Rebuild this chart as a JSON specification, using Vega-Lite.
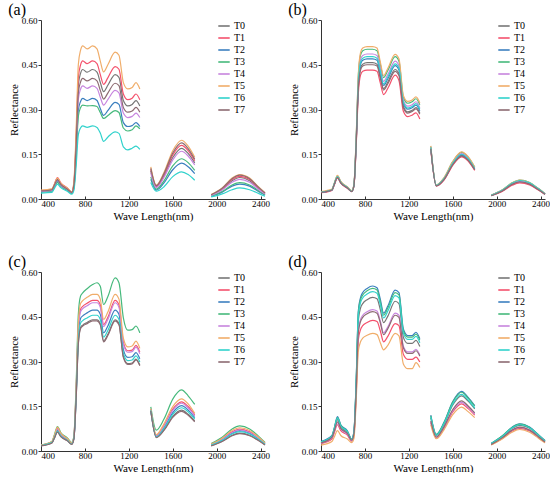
{
  "$schema": "https://vega.github.io/schema/vega-lite/v6.json",
  "padding": {"left": 8, "top": 2, "right": 0, "bottom": 0},
  "datasets": {
    "a": [
      {"g":1,"w":400,"T0":0.026,"T1":0.028,"T2":0.024,"T3":0.024,"T4":0.026,"T5":0.030,"T6":0.020,"T7":0.027},
      {"g":1,"w":500,"T0":0.030,"T1":0.032,"T2":0.027,"T3":0.027,"T4":0.029,"T5":0.034,"T6":0.022,"T7":0.031},
      {"g":1,"w":520,"T0":0.045,"T1":0.048,"T2":0.040,"T3":0.040,"T4":0.043,"T5":0.048,"T6":0.034,"T7":0.045},
      {"g":1,"w":550,"T0":0.066,"T1":0.072,"T2":0.058,"T3":0.056,"T4":0.062,"T5":0.070,"T6":0.050,"T7":0.064},
      {"g":1,"w":580,"T0":0.050,"T1":0.054,"T2":0.044,"T3":0.043,"T4":0.047,"T5":0.053,"T6":0.038,"T7":0.049},
      {"g":1,"w":640,"T0":0.034,"T1":0.037,"T2":0.030,"T3":0.029,"T4":0.032,"T5":0.036,"T6":0.026,"T7":0.033},
      {"g":1,"w":680,"T0":0.022,"T1":0.024,"T2":0.019,"T3":0.019,"T4":0.021,"T5":0.024,"T6":0.016,"T7":0.022},
      {"g":1,"w":700,"T0":0.050,"T1":0.054,"T2":0.040,"T3":0.038,"T4":0.045,"T5":0.060,"T6":0.030,"T7":0.048},
      {"g":1,"w":720,"T0":0.195,"T1":0.208,"T2":0.152,"T3":0.142,"T4":0.171,"T5":0.231,"T6":0.110,"T7":0.182},
      {"g":1,"w":740,"T0":0.382,"T1":0.407,"T2":0.297,"T3":0.277,"T4":0.334,"T5":0.451,"T6":0.216,"T7":0.356},
      {"g":1,"w":760,"T0":0.421,"T1":0.449,"T2":0.327,"T3":0.306,"T4":0.368,"T5":0.498,"T6":0.238,"T7":0.392},
      {"g":1,"w":780,"T0":0.434,"T1":0.463,"T2":0.337,"T3":0.315,"T4":0.379,"T5":0.513,"T6":0.245,"T7":0.404},
      {"g":1,"w":820,"T0":0.425,"T1":0.454,"T2":0.330,"T3":0.312,"T4":0.371,"T5":0.503,"T6":0.240,"T7":0.396},
      {"g":1,"w":870,"T0":0.434,"T1":0.463,"T2":0.337,"T3":0.313,"T4":0.379,"T5":0.513,"T6":0.245,"T7":0.404},
      {"g":1,"w":910,"T0":0.425,"T1":0.454,"T2":0.330,"T3":0.310,"T4":0.371,"T5":0.503,"T6":0.240,"T7":0.396},
      {"g":1,"w":940,"T0":0.391,"T1":0.417,"T2":0.303,"T3":0.290,"T4":0.341,"T5":0.462,"T6":0.221,"T7":0.364},
      {"g":1,"w":970,"T0":0.360,"T1":0.384,"T2":0.280,"T3":0.270,"T4":0.315,"T5":0.426,"T6":0.193,"T7":0.335},
      {"g":1,"w":1010,"T0":0.382,"T1":0.407,"T2":0.297,"T3":0.280,"T4":0.334,"T5":0.451,"T6":0.208,"T7":0.356},
      {"g":1,"w":1075,"T0":0.417,"T1":0.444,"T2":0.324,"T3":0.296,"T4":0.364,"T5":0.492,"T6":0.225,"T7":0.388},
      {"g":1,"w":1110,"T0":0.408,"T1":0.435,"T2":0.317,"T3":0.290,"T4":0.356,"T5":0.482,"T6":0.220,"T7":0.380},
      {"g":1,"w":1150,"T0":0.330,"T1":0.352,"T2":0.256,"T3":0.238,"T4":0.288,"T5":0.390,"T6":0.175,"T7":0.307},
      {"g":1,"w":1190,"T0":0.312,"T1":0.333,"T2":0.243,"T3":0.228,"T4":0.273,"T5":0.369,"T6":0.165,"T7":0.291},
      {"g":1,"w":1230,"T0":0.317,"T1":0.338,"T2":0.246,"T3":0.232,"T4":0.277,"T5":0.374,"T6":0.170,"T7":0.295},
      {"g":1,"w":1265,"T0":0.330,"T1":0.352,"T2":0.256,"T3":0.245,"T4":0.288,"T5":0.390,"T6":0.177,"T7":0.307},
      {"g":1,"w":1300,"T0":0.312,"T1":0.333,"T2":0.243,"T3":0.235,"T4":0.273,"T5":0.369,"T6":0.166,"T7":0.291},
      {"g":2,"w":1400,"T0":0.094,"T1":0.099,"T2":0.066,"T3":0.074,"T4":0.088,"T5":0.108,"T6":0.055,"T7":0.103},
      {"g":2,"w":1450,"T0":0.041,"T1":0.043,"T2":0.030,"T3":0.033,"T4":0.038,"T5":0.047,"T6":0.026,"T7":0.045},
      {"g":2,"w":1520,"T0":0.077,"T1":0.081,"T2":0.054,"T3":0.061,"T4":0.072,"T5":0.089,"T6":0.041,"T7":0.085},
      {"g":2,"w":1600,"T0":0.139,"T1":0.148,"T2":0.098,"T3":0.111,"T4":0.131,"T5":0.162,"T6":0.075,"T7":0.154},
      {"g":2,"w":1680,"T0":0.170,"T1":0.180,"T2":0.120,"T3":0.135,"T4":0.160,"T5":0.197,"T6":0.091,"T7":0.188},
      {"g":2,"w":1740,"T0":0.153,"T1":0.162,"T2":0.108,"T3":0.122,"T4":0.144,"T5":0.177,"T6":0.082,"T7":0.169},
      {"g":2,"w":1800,"T0":0.121,"T1":0.128,"T2":0.085,"T3":0.096,"T4":0.114,"T5":0.140,"T6":0.063,"T7":0.133},
      {"g":3,"w":1950,"T0":0.013,"T1":0.014,"T2":0.009,"T3":0.010,"T4":0.012,"T5":0.015,"T6":0.007,"T7":0.014},
      {"g":3,"w":2050,"T0":0.032,"T1":0.034,"T2":0.023,"T3":0.025,"T4":0.030,"T5":0.037,"T6":0.017,"T7":0.036},
      {"g":3,"w":2140,"T0":0.061,"T1":0.065,"T2":0.043,"T3":0.047,"T4":0.056,"T5":0.070,"T6":0.031,"T7":0.068},
      {"g":3,"w":2210,"T0":0.072,"T1":0.076,"T2":0.050,"T3":0.055,"T4":0.066,"T5":0.082,"T6":0.037,"T7":0.080},
      {"g":3,"w":2300,"T0":0.061,"T1":0.065,"T2":0.043,"T3":0.047,"T4":0.056,"T5":0.070,"T6":0.031,"T7":0.068},
      {"g":3,"w":2380,"T0":0.036,"T1":0.038,"T2":0.025,"T3":0.028,"T4":0.033,"T5":0.041,"T6":0.019,"T7":0.040},
      {"g":3,"w":2440,"T0":0.018,"T1":0.019,"T2":0.013,"T3":0.014,"T4":0.017,"T5":0.021,"T6":0.009,"T7":0.020}
    ],
    "b": [
      {"g":1,"w":400,"T0":0.022,"T1":0.021,"T2":0.022,"T3":0.024,"T4":0.023,"T5":0.025,"T6":0.023,"T7":0.022},
      {"g":1,"w":500,"T0":0.030,"T1":0.029,"T2":0.030,"T3":0.032,"T4":0.031,"T5":0.033,"T6":0.031,"T7":0.030},
      {"g":1,"w":520,"T0":0.048,"T1":0.046,"T2":0.049,"T3":0.051,"T4":0.050,"T5":0.052,"T6":0.050,"T7":0.048},
      {"g":1,"w":550,"T0":0.073,"T1":0.070,"T2":0.074,"T3":0.078,"T4":0.076,"T5":0.079,"T6":0.075,"T7":0.072},
      {"g":1,"w":580,"T0":0.055,"T1":0.053,"T2":0.056,"T3":0.058,"T4":0.057,"T5":0.059,"T6":0.056,"T7":0.054},
      {"g":1,"w":640,"T0":0.038,"T1":0.036,"T2":0.038,"T3":0.040,"T4":0.039,"T5":0.041,"T6":0.039,"T7":0.037},
      {"g":1,"w":680,"T0":0.026,"T1":0.025,"T2":0.026,"T3":0.027,"T4":0.026,"T5":0.028,"T6":0.026,"T7":0.025},
      {"g":1,"w":700,"T0":0.045,"T1":0.043,"T2":0.046,"T3":0.048,"T4":0.047,"T5":0.050,"T6":0.046,"T7":0.044},
      {"g":1,"w":720,"T0":0.183,"T1":0.173,"T2":0.188,"T3":0.201,"T4":0.194,"T5":0.204,"T6":0.191,"T7":0.180},
      {"g":1,"w":740,"T0":0.375,"T1":0.354,"T2":0.385,"T3":0.412,"T4":0.399,"T5":0.419,"T6":0.391,"T7":0.369},
      {"g":1,"w":760,"T0":0.439,"T1":0.415,"T2":0.451,"T3":0.482,"T4":0.467,"T5":0.491,"T6":0.458,"T7":0.432},
      {"g":1,"w":780,"T0":0.452,"T1":0.428,"T2":0.465,"T3":0.497,"T4":0.481,"T5":0.506,"T6":0.472,"T7":0.446},
      {"g":1,"w":820,"T0":0.457,"T1":0.432,"T2":0.470,"T3":0.502,"T4":0.486,"T5":0.511,"T6":0.477,"T7":0.450},
      {"g":1,"w":870,"T0":0.457,"T1":0.432,"T2":0.470,"T3":0.502,"T4":0.486,"T5":0.511,"T6":0.477,"T7":0.450},
      {"g":1,"w":910,"T0":0.452,"T1":0.428,"T2":0.465,"T3":0.497,"T4":0.481,"T5":0.506,"T6":0.472,"T7":0.446},
      {"g":1,"w":940,"T0":0.411,"T1":0.389,"T2":0.423,"T3":0.452,"T4":0.437,"T5":0.460,"T6":0.429,"T7":0.405},
      {"g":1,"w":970,"T0":0.370,"T1":0.350,"T2":0.381,"T3":0.407,"T4":0.394,"T5":0.414,"T6":0.386,"T7":0.365},
      {"g":1,"w":1010,"T0":0.393,"T1":0.372,"T2":0.404,"T3":0.432,"T4":0.418,"T5":0.439,"T6":0.410,"T7":0.387},
      {"g":1,"w":1075,"T0":0.434,"T1":0.415,"T2":0.447,"T3":0.477,"T4":0.462,"T5":0.485,"T6":0.453,"T7":0.428},
      {"g":1,"w":1110,"T0":0.420,"T1":0.397,"T2":0.432,"T3":0.462,"T4":0.447,"T5":0.470,"T6":0.439,"T7":0.414},
      {"g":1,"w":1150,"T0":0.311,"T1":0.294,"T2":0.320,"T3":0.341,"T4":0.330,"T5":0.347,"T6":0.324,"T7":0.306},
      {"g":1,"w":1190,"T0":0.292,"T1":0.276,"T2":0.301,"T3":0.321,"T4":0.311,"T5":0.327,"T6":0.305,"T7":0.288},
      {"g":1,"w":1230,"T0":0.297,"T1":0.281,"T2":0.306,"T3":0.326,"T4":0.316,"T5":0.332,"T6":0.310,"T7":0.293},
      {"g":1,"w":1265,"T0":0.306,"T1":0.289,"T2":0.315,"T3":0.336,"T4":0.326,"T5":0.342,"T6":0.320,"T7":0.302},
      {"g":1,"w":1300,"T0":0.288,"T1":0.268,"T2":0.296,"T3":0.316,"T4":0.306,"T5":0.322,"T6":0.301,"T7":0.284},
      {"g":2,"w":1400,"T0":0.170,"T1":0.165,"T2":0.172,"T3":0.176,"T4":0.174,"T5":0.178,"T6":0.173,"T7":0.168},
      {"g":2,"w":1450,"T0":0.045,"T1":0.043,"T2":0.045,"T3":0.047,"T4":0.046,"T5":0.047,"T6":0.046,"T7":0.044},
      {"g":2,"w":1520,"T0":0.066,"T1":0.063,"T2":0.067,"T3":0.070,"T4":0.068,"T5":0.071,"T6":0.068,"T7":0.065},
      {"g":2,"w":1600,"T0":0.117,"T1":0.113,"T2":0.119,"T3":0.125,"T4":0.122,"T5":0.126,"T6":0.120,"T7":0.115},
      {"g":2,"w":1680,"T0":0.146,"T1":0.141,"T2":0.149,"T3":0.156,"T4":0.152,"T5":0.158,"T6":0.150,"T7":0.144},
      {"g":2,"w":1740,"T0":0.131,"T1":0.127,"T2":0.134,"T3":0.140,"T4":0.137,"T5":0.142,"T6":0.135,"T7":0.130},
      {"g":2,"w":1800,"T0":0.099,"T1":0.096,"T2":0.101,"T3":0.106,"T4":0.103,"T5":0.107,"T6":0.102,"T7":0.098},
      {"g":3,"w":1950,"T0":0.012,"T1":0.011,"T2":0.012,"T3":0.013,"T4":0.012,"T5":0.013,"T6":0.012,"T7":0.011},
      {"g":3,"w":2050,"T0":0.027,"T1":0.025,"T2":0.029,"T3":0.030,"T4":0.029,"T5":0.030,"T6":0.029,"T7":0.027},
      {"g":3,"w":2140,"T0":0.050,"T1":0.046,"T2":0.052,"T3":0.054,"T4":0.052,"T5":0.054,"T6":0.053,"T7":0.049},
      {"g":3,"w":2210,"T0":0.058,"T1":0.054,"T2":0.061,"T3":0.063,"T4":0.061,"T5":0.063,"T6":0.062,"T7":0.057},
      {"g":3,"w":2300,"T0":0.050,"T1":0.047,"T2":0.053,"T3":0.055,"T4":0.053,"T5":0.055,"T6":0.054,"T7":0.050},
      {"g":3,"w":2380,"T0":0.032,"T1":0.030,"T2":0.034,"T3":0.035,"T4":0.034,"T5":0.035,"T6":0.034,"T7":0.031},
      {"g":3,"w":2440,"T0":0.016,"T1":0.015,"T2":0.017,"T3":0.018,"T4":0.017,"T5":0.018,"T6":0.017,"T7":0.016}
    ],
    "c": [
      {"g":1,"w":400,"T0":0.018,"T1":0.019,"T2":0.018,"T3":0.020,"T4":0.019,"T5":0.020,"T6":0.018,"T7":0.017},
      {"g":1,"w":500,"T0":0.028,"T1":0.030,"T2":0.029,"T3":0.032,"T4":0.030,"T5":0.032,"T6":0.029,"T7":0.027},
      {"g":1,"w":520,"T0":0.042,"T1":0.048,"T2":0.045,"T3":0.052,"T4":0.047,"T5":0.050,"T6":0.043,"T7":0.041},
      {"g":1,"w":550,"T0":0.064,"T1":0.075,"T2":0.070,"T3":0.082,"T4":0.074,"T5":0.080,"T6":0.067,"T7":0.063},
      {"g":1,"w":580,"T0":0.049,"T1":0.057,"T2":0.053,"T3":0.062,"T4":0.056,"T5":0.060,"T6":0.051,"T7":0.048},
      {"g":1,"w":640,"T0":0.035,"T1":0.040,"T2":0.037,"T3":0.044,"T4":0.039,"T5":0.042,"T6":0.036,"T7":0.034},
      {"g":1,"w":680,"T0":0.023,"T1":0.026,"T2":0.024,"T3":0.028,"T4":0.025,"T5":0.027,"T6":0.024,"T7":0.022},
      {"g":1,"w":700,"T0":0.042,"T1":0.048,"T2":0.045,"T3":0.052,"T4":0.047,"T5":0.050,"T6":0.044,"T7":0.041},
      {"g":1,"w":720,"T0":0.176,"T1":0.202,"T2":0.189,"T3":0.223,"T4":0.199,"T5":0.210,"T6":0.182,"T7":0.174},
      {"g":1,"w":740,"T0":0.361,"T1":0.414,"T2":0.387,"T3":0.458,"T4":0.408,"T5":0.431,"T6":0.373,"T7":0.358},
      {"g":1,"w":760,"T0":0.414,"T1":0.475,"T2":0.444,"T3":0.519,"T4":0.467,"T5":0.494,"T6":0.428,"T7":0.410},
      {"g":1,"w":780,"T0":0.422,"T1":0.485,"T2":0.453,"T3":0.530,"T4":0.477,"T5":0.504,"T6":0.437,"T7":0.419},
      {"g":1,"w":820,"T0":0.431,"T1":0.495,"T2":0.463,"T3":0.544,"T4":0.487,"T5":0.515,"T6":0.446,"T7":0.427},
      {"g":1,"w":870,"T0":0.440,"T1":0.505,"T2":0.472,"T3":0.558,"T4":0.497,"T5":0.525,"T6":0.455,"T7":0.436},
      {"g":1,"w":910,"T0":0.440,"T1":0.505,"T2":0.472,"T3":0.564,"T4":0.497,"T5":0.525,"T6":0.455,"T7":0.436},
      {"g":1,"w":940,"T0":0.427,"T1":0.490,"T2":0.458,"T3":0.552,"T4":0.482,"T5":0.509,"T6":0.441,"T7":0.423},
      {"g":1,"w":970,"T0":0.370,"T1":0.424,"T2":0.396,"T3":0.491,"T4":0.417,"T5":0.441,"T6":0.382,"T7":0.366},
      {"g":1,"w":1010,"T0":0.392,"T1":0.449,"T2":0.420,"T3":0.519,"T4":0.442,"T5":0.467,"T6":0.405,"T7":0.388},
      {"g":1,"w":1075,"T0":0.440,"T1":0.505,"T2":0.472,"T3":0.580,"T4":0.497,"T5":0.525,"T6":0.455,"T7":0.436},
      {"g":1,"w":1110,"T0":0.427,"T1":0.490,"T2":0.458,"T3":0.564,"T4":0.482,"T5":0.509,"T6":0.441,"T7":0.423},
      {"g":1,"w":1150,"T0":0.317,"T1":0.364,"T2":0.340,"T3":0.446,"T4":0.358,"T5":0.378,"T6":0.328,"T7":0.314},
      {"g":1,"w":1190,"T0":0.293,"T1":0.336,"T2":0.314,"T3":0.405,"T4":0.331,"T5":0.349,"T6":0.303,"T7":0.290},
      {"g":1,"w":1230,"T0":0.295,"T1":0.338,"T2":0.316,"T3":0.407,"T4":0.333,"T5":0.352,"T6":0.305,"T7":0.292},
      {"g":1,"w":1265,"T0":0.308,"T1":0.354,"T2":0.330,"T3":0.419,"T4":0.348,"T5":0.368,"T6":0.319,"T7":0.305},
      {"g":1,"w":1300,"T0":0.288,"T1":0.331,"T2":0.309,"T3":0.396,"T4":0.326,"T5":0.344,"T6":0.298,"T7":0.286},
      {"g":2,"w":1400,"T0":0.135,"T1":0.140,"T2":0.138,"T3":0.148,"T4":0.140,"T5":0.142,"T6":0.136,"T7":0.134},
      {"g":2,"w":1450,"T0":0.046,"T1":0.053,"T2":0.049,"T3":0.070,"T4":0.051,"T5":0.055,"T6":0.047,"T7":0.045},
      {"g":2,"w":1520,"T0":0.071,"T1":0.086,"T2":0.079,"T3":0.107,"T4":0.083,"T5":0.091,"T6":0.075,"T7":0.069},
      {"g":2,"w":1600,"T0":0.116,"T1":0.140,"T2":0.129,"T3":0.174,"T4":0.136,"T5":0.149,"T6":0.123,"T7":0.113},
      {"g":2,"w":1680,"T0":0.137,"T1":0.165,"T2":0.152,"T3":0.205,"T4":0.160,"T5":0.175,"T6":0.145,"T7":0.133},
      {"g":2,"w":1740,"T0":0.123,"T1":0.149,"T2":0.137,"T3":0.185,"T4":0.144,"T5":0.158,"T6":0.131,"T7":0.120},
      {"g":2,"w":1800,"T0":0.101,"T1":0.121,"T2":0.112,"T3":0.156,"T4":0.118,"T5":0.126,"T6":0.107,"T7":0.098},
      {"g":3,"w":1950,"T0":0.018,"T1":0.022,"T2":0.020,"T3":0.025,"T4":0.021,"T5":0.023,"T6":0.020,"T7":0.017},
      {"g":3,"w":2050,"T0":0.033,"T1":0.040,"T2":0.037,"T3":0.046,"T4":0.039,"T5":0.043,"T6":0.036,"T7":0.032},
      {"g":3,"w":2140,"T0":0.053,"T1":0.064,"T2":0.060,"T3":0.074,"T4":0.062,"T5":0.069,"T6":0.057,"T7":0.051},
      {"g":3,"w":2210,"T0":0.060,"T1":0.073,"T2":0.068,"T3":0.084,"T4":0.071,"T5":0.078,"T6":0.065,"T7":0.058},
      {"g":3,"w":2300,"T0":0.053,"T1":0.064,"T2":0.060,"T3":0.074,"T4":0.062,"T5":0.069,"T6":0.057,"T7":0.051},
      {"g":3,"w":2380,"T0":0.036,"T1":0.044,"T2":0.041,"T3":0.050,"T4":0.043,"T5":0.047,"T6":0.039,"T7":0.035},
      {"g":3,"w":2440,"T0":0.021,"T1":0.026,"T2":0.024,"T3":0.029,"T4":0.025,"T5":0.027,"T6":0.023,"T7":0.020}
    ],
    "d": [
      {"g":1,"w":400,"T0":0.028,"T1":0.025,"T2":0.032,"T3":0.030,"T4":0.026,"T5":0.020,"T6":0.031,"T7":0.027},
      {"g":1,"w":500,"T0":0.048,"T1":0.040,"T2":0.052,"T3":0.050,"T4":0.044,"T5":0.032,"T6":0.050,"T7":0.046},
      {"g":1,"w":520,"T0":0.070,"T1":0.060,"T2":0.076,"T3":0.074,"T4":0.064,"T5":0.046,"T6":0.073,"T7":0.066},
      {"g":1,"w":550,"T0":0.105,"T1":0.088,"T2":0.115,"T3":0.112,"T4":0.095,"T5":0.068,"T6":0.110,"T7":0.098},
      {"g":1,"w":580,"T0":0.080,"T1":0.068,"T2":0.088,"T3":0.086,"T4":0.074,"T5":0.052,"T6":0.084,"T7":0.076},
      {"g":1,"w":640,"T0":0.062,"T1":0.053,"T2":0.068,"T3":0.066,"T4":0.057,"T5":0.040,"T6":0.065,"T7":0.059},
      {"g":1,"w":680,"T0":0.037,"T1":0.033,"T2":0.040,"T3":0.039,"T4":0.035,"T5":0.028,"T6":0.039,"T7":0.036},
      {"g":1,"w":700,"T0":0.060,"T1":0.052,"T2":0.066,"T3":0.064,"T4":0.056,"T5":0.042,"T6":0.064,"T7":0.058},
      {"g":1,"w":720,"T0":0.216,"T1":0.184,"T2":0.232,"T3":0.229,"T4":0.199,"T5":0.165,"T6":0.224,"T7":0.196},
      {"g":1,"w":740,"T0":0.438,"T1":0.372,"T2":0.470,"T3":0.463,"T4":0.403,"T5":0.335,"T6":0.454,"T7":0.397},
      {"g":1,"w":760,"T0":0.479,"T1":0.407,"T2":0.514,"T3":0.507,"T4":0.441,"T5":0.366,"T6":0.497,"T7":0.434},
      {"g":1,"w":780,"T0":0.494,"T1":0.420,"T2":0.531,"T3":0.523,"T4":0.455,"T5":0.378,"T6":0.513,"T7":0.448},
      {"g":1,"w":820,"T0":0.507,"T1":0.431,"T2":0.545,"T3":0.537,"T4":0.467,"T5":0.388,"T6":0.526,"T7":0.460},
      {"g":1,"w":870,"T0":0.515,"T1":0.438,"T2":0.553,"T3":0.545,"T4":0.474,"T5":0.394,"T6":0.534,"T7":0.467},
      {"g":1,"w":910,"T0":0.510,"T1":0.434,"T2":0.547,"T3":0.540,"T4":0.469,"T5":0.390,"T6":0.529,"T7":0.462},
      {"g":1,"w":940,"T0":0.474,"T1":0.403,"T2":0.509,"T3":0.501,"T4":0.436,"T5":0.363,"T6":0.491,"T7":0.430},
      {"g":1,"w":970,"T0":0.430,"T1":0.366,"T2":0.462,"T3":0.455,"T4":0.396,"T5":0.339,"T6":0.446,"T7":0.390},
      {"g":1,"w":1010,"T0":0.453,"T1":0.385,"T2":0.487,"T3":0.480,"T4":0.417,"T5":0.355,"T6":0.470,"T7":0.411},
      {"g":1,"w":1075,"T0":0.502,"T1":0.427,"T2":0.539,"T3":0.531,"T4":0.462,"T5":0.394,"T6":0.521,"T7":0.455},
      {"g":1,"w":1110,"T0":0.494,"T1":0.420,"T2":0.531,"T3":0.523,"T4":0.455,"T5":0.386,"T6":0.513,"T7":0.448},
      {"g":1,"w":1150,"T0":0.381,"T1":0.324,"T2":0.409,"T3":0.403,"T4":0.351,"T5":0.292,"T6":0.395,"T7":0.346},
      {"g":1,"w":1190,"T0":0.361,"T1":0.307,"T2":0.387,"T3":0.382,"T4":0.332,"T5":0.276,"T6":0.374,"T7":0.327},
      {"g":1,"w":1230,"T0":0.361,"T1":0.307,"T2":0.387,"T3":0.382,"T4":0.332,"T5":0.276,"T6":0.374,"T7":0.327},
      {"g":1,"w":1265,"T0":0.371,"T1":0.315,"T2":0.398,"T3":0.392,"T4":0.341,"T5":0.296,"T6":0.384,"T7":0.336},
      {"g":1,"w":1300,"T0":0.350,"T1":0.298,"T2":0.376,"T3":0.371,"T4":0.322,"T5":0.280,"T6":0.363,"T7":0.318},
      {"g":2,"w":1400,"T0":0.111,"T1":0.095,"T2":0.120,"T3":0.118,"T4":0.098,"T5":0.088,"T6":0.114,"T7":0.101},
      {"g":2,"w":1450,"T0":0.052,"T1":0.044,"T2":0.056,"T3":0.055,"T4":0.046,"T5":0.041,"T6":0.053,"T7":0.047},
      {"g":2,"w":1520,"T0":0.089,"T1":0.076,"T2":0.096,"T3":0.095,"T4":0.078,"T5":0.071,"T6":0.091,"T7":0.081},
      {"g":2,"w":1600,"T0":0.154,"T1":0.131,"T2":0.166,"T3":0.164,"T4":0.135,"T5":0.122,"T6":0.158,"T7":0.139},
      {"g":2,"w":1680,"T0":0.185,"T1":0.158,"T2":0.200,"T3":0.197,"T4":0.163,"T5":0.147,"T6":0.190,"T7":0.168},
      {"g":2,"w":1740,"T0":0.167,"T1":0.142,"T2":0.180,"T3":0.177,"T4":0.147,"T5":0.132,"T6":0.171,"T7":0.151},
      {"g":2,"w":1800,"T0":0.141,"T1":0.120,"T2":0.152,"T3":0.150,"T4":0.124,"T5":0.112,"T6":0.144,"T7":0.128},
      {"g":3,"w":1950,"T0":0.024,"T1":0.021,"T2":0.025,"T3":0.025,"T4":0.022,"T5":0.020,"T6":0.025,"T7":0.022},
      {"g":3,"w":2050,"T0":0.047,"T1":0.042,"T2":0.050,"T3":0.050,"T4":0.043,"T5":0.040,"T6":0.048,"T7":0.044},
      {"g":3,"w":2140,"T0":0.076,"T1":0.067,"T2":0.080,"T3":0.079,"T4":0.070,"T5":0.063,"T6":0.077,"T7":0.070},
      {"g":3,"w":2210,"T0":0.086,"T1":0.076,"T2":0.091,"T3":0.090,"T4":0.079,"T5":0.072,"T6":0.088,"T7":0.080},
      {"g":3,"w":2300,"T0":0.076,"T1":0.067,"T2":0.080,"T3":0.079,"T4":0.070,"T5":0.063,"T6":0.077,"T7":0.070},
      {"g":3,"w":2380,"T0":0.052,"T1":0.046,"T2":0.055,"T3":0.054,"T4":0.047,"T5":0.043,"T6":0.053,"T7":0.048},
      {"g":3,"w":2440,"T0":0.033,"T1":0.029,"T2":0.035,"T3":0.034,"T4":0.030,"T5":0.027,"T6":0.033,"T7":0.030}
    ]
  },
  "columns": 2,
  "spacing": {"row": 33, "column": 18},
  "concat": [
    {
      "title": "(a)",
      "width": 224,
      "height": 179,
      "data": {"name": "a"},
      "transform": [{"fold": ["T0", "T1", "T2", "T3", "T4", "T5", "T6", "T7"], "as": ["s", "r"]}],
      "mark": {"type": "line", "interpolate": "monotone", "strokeWidth": 1.2},
      "encoding": {
        "x": {"field": "w", "type": "quantitative", "scale": {"domain": [400, 2440], "nice": false}, "axis": {"values": [400, 800, 1200, 1600, 2000, 2400], "format": "d", "title": "Wave Length(nm)"}},
        "y": {"field": "r", "type": "quantitative", "scale": {"domain": [0, 0.6]}, "axis": {"values": [0, 0.15, 0.3, 0.45, 0.6], "format": ".2f", "title": "Reflectance"}},
        "color": {"field": "s", "type": "nominal", "scale": {"domain": ["T0", "T1", "T2", "T3", "T4", "T5", "T6", "T7"], "range": ["#767676", "#f4516c", "#3b7fbf", "#46b97c", "#c785de", "#f0ad6a", "#31d2cc", "#8d6b72"]}},
        "detail": {"field": "g", "type": "nominal"}
      }
    },
    {
      "title": "(b)",
      "width": 224,
      "height": 179,
      "data": {"name": "b"},
      "transform": [{"fold": ["T0", "T1", "T2", "T3", "T4", "T5", "T6", "T7"], "as": ["s", "r"]}],
      "mark": {"type": "line", "interpolate": "monotone", "strokeWidth": 1.2},
      "encoding": {
        "x": {"field": "w", "type": "quantitative", "scale": {"domain": [400, 2440], "nice": false}, "axis": {"values": [400, 800, 1200, 1600, 2000, 2400], "format": "d", "title": "Wave Length(nm)"}},
        "y": {"field": "r", "type": "quantitative", "scale": {"domain": [0, 0.6]}, "axis": {"values": [0, 0.15, 0.3, 0.45, 0.6], "format": ".2f", "title": "Reflectance"}},
        "color": {"field": "s", "type": "nominal", "scale": {"domain": ["T0", "T1", "T2", "T3", "T4", "T5", "T6", "T7"], "range": ["#767676", "#f4516c", "#3b7fbf", "#46b97c", "#c785de", "#f0ad6a", "#31d2cc", "#8d6b72"]}},
        "detail": {"field": "g", "type": "nominal"}
      }
    },
    {
      "title": "(c)",
      "width": 224,
      "height": 179,
      "data": {"name": "c"},
      "transform": [{"fold": ["T0", "T1", "T2", "T3", "T4", "T5", "T6", "T7"], "as": ["s", "r"]}],
      "mark": {"type": "line", "interpolate": "monotone", "strokeWidth": 1.2},
      "encoding": {
        "x": {"field": "w", "type": "quantitative", "scale": {"domain": [400, 2440], "nice": false}, "axis": {"values": [400, 800, 1200, 1600, 2000, 2400], "format": "d", "title": "Wave Length(nm)"}},
        "y": {"field": "r", "type": "quantitative", "scale": {"domain": [0, 0.6]}, "axis": {"values": [0, 0.15, 0.3, 0.45, 0.6], "format": ".2f", "title": "Reflectance"}},
        "color": {"field": "s", "type": "nominal", "scale": {"domain": ["T0", "T1", "T2", "T3", "T4", "T5", "T6", "T7"], "range": ["#767676", "#f4516c", "#3b7fbf", "#46b97c", "#c785de", "#f0ad6a", "#31d2cc", "#8d6b72"]}},
        "detail": {"field": "g", "type": "nominal"}
      }
    },
    {
      "title": "(d)",
      "width": 224,
      "height": 179,
      "data": {"name": "d"},
      "transform": [{"fold": ["T0", "T1", "T2", "T3", "T4", "T5", "T6", "T7"], "as": ["s", "r"]}],
      "mark": {"type": "line", "interpolate": "monotone", "strokeWidth": 1.2},
      "encoding": {
        "x": {"field": "w", "type": "quantitative", "scale": {"domain": [400, 2440], "nice": false}, "axis": {"values": [400, 800, 1200, 1600, 2000, 2400], "format": "d", "title": "Wave Length(nm)"}},
        "y": {"field": "r", "type": "quantitative", "scale": {"domain": [0, 0.6]}, "axis": {"values": [0, 0.15, 0.3, 0.45, 0.6], "format": ".2f", "title": "Reflectance"}},
        "color": {"field": "s", "type": "nominal", "scale": {"domain": ["T0", "T1", "T2", "T3", "T4", "T5", "T6", "T7"], "range": ["#767676", "#f4516c", "#3b7fbf", "#46b97c", "#c785de", "#f0ad6a", "#31d2cc", "#8d6b72"]}},
        "detail": {"field": "g", "type": "nominal"}
      }
    }
  ],
  "resolve": {"legend": {"color": "independent"}},
  "config": {
    "font": "Liberation Serif",
    "view": {"stroke": null},
    "title": {"font": "Liberation Serif", "fontSize": 16, "fontWeight": "normal", "anchor": "start", "frame": "bounds", "offset": -2, "color": "#000"},
    "axis": {
      "grid": false,
      "domainColor": "#333",
      "tickColor": "#333",
      "tickSize": 3,
      "labelFont": "Liberation Serif",
      "titleFont": "Liberation Serif",
      "labelFontSize": 9,
      "titleFontSize": 11,
      "titleFontWeight": "normal",
      "labelColor": "#000",
      "titleColor": "#000",
      "labelPadding": 1,
      "titlePadding": 2
    },
    "axisX": {"tickSize": -3, "labelPadding": 3},
    "legend": {
      "title": null,
      "orient": "none",
      "legendX": 176,
      "legendY": -1,
      "symbolType": "stroke",
      "symbolSize": 130,
      "symbolStrokeWidth": 1.6,
      "labelFont": "Liberation Serif",
      "labelFontSize": 10,
      "labelColor": "#000",
      "labelOffset": 3,
      "rowPadding": 0
    }
  }
}
